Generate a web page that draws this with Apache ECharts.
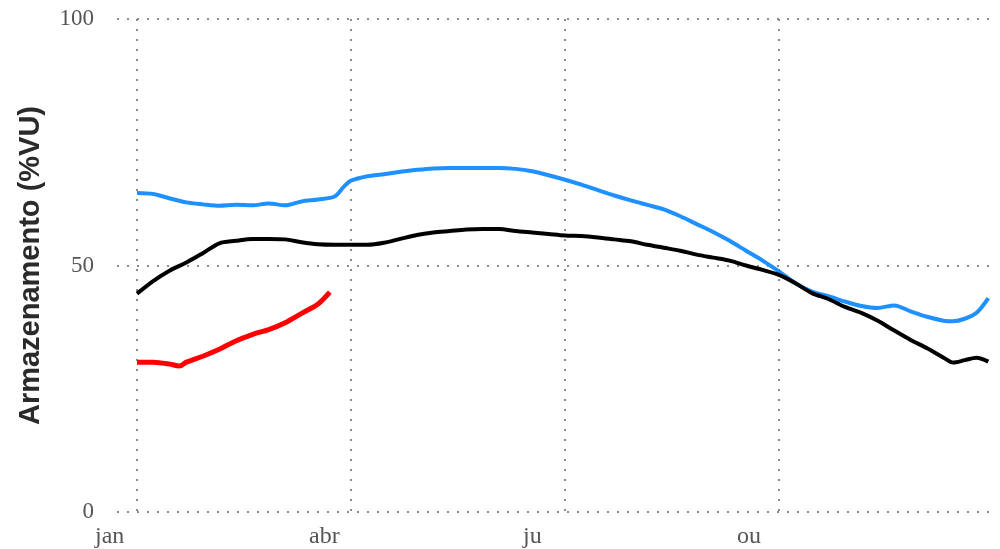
<!DOCTYPE html>
<html>
<head>
<meta charset="utf-8">
<script src="https://cdn.jsdelivr.net/npm/echarts@6/dist/echarts.min.js"></script>
<style>html,body{margin:0;padding:0;background:#fff;}#c{width:1000px;height:549px;}</style>
</head>
<body>
<div id="c"></div>
<script>
// x = day of year
const days = [0,7,14,21,28,35,42,49,56,63,70,77,84,88,91,98,105,112,119,126,133,140,147,154,161,168,175,182,189,196,203,210,217,224,231,238,245,252,259,266,273,280,287,294,301,308,315,322,329,336,343,347,352,357,362];
const blueValues = [64.7,64.5,63.6,62.8,62.4,62.1,62.3,62.2,62.6,62.2,63.0,63.4,64.0,66.0,67.2,68.1,68.5,69.0,69.4,69.7,69.8,69.8,69.8,69.8,69.6,69.1,68.3,67.4,66.4,65.3,64.2,63.2,62.3,61.4,60.0,58.4,56.8,55.0,53.0,51.0,48.8,46.4,44.7,43.8,42.7,41.8,41.4,41.9,40.7,39.6,38.8,38.7,39.2,40.4,43.4];
const blackValues = [44.3,46.9,49.0,50.6,52.5,54.5,55.0,55.4,55.4,55.3,54.7,54.3,54.2,54.2,54.2,54.2,54.6,55.4,56.2,56.7,57.0,57.3,57.4,57.4,57.0,56.7,56.4,56.1,56.0,55.7,55.3,54.9,54.2,53.6,53.0,52.2,51.6,51.0,50.0,49.1,48.1,46.4,44.4,43.2,41.6,40.4,38.8,36.8,34.9,33.2,31.3,30.3,30.8,31.3,30.5];
const redDays = [0,7,14,18,21,28,35,42,49,56,63,70,77,82];
const redValues = [30.4,30.4,30.0,29.6,30.4,31.6,33.0,34.7,36.0,37.0,38.4,40.3,42.2,44.6];
const xTickLabels = ['jan','abr','ju','ou'];
const yTicks = [0,50,100];
const yAxisName = 'Armazenamento (%VU)';

const pair = (xs, ys) => xs.map((x, i) => [x, ys[i]]);
const dotted = {type: [2, 8], width: 2, color: '#8a8a8a'};
const chart = echarts.init(document.getElementById('c'));
chart.setOption({
  animation: false,
  backgroundColor: '#fff',
  grid: [
    {left: 117, right: 5, top: 19, bottom: 37},
    {left: 137, right: 7, top: 19, bottom: 37},
    {left: 95, right: 49, top: 19, bottom: 37}
  ],
  xAxis: [
    {gridIndex: 0, type: 'value', min: 0, max: 1, show: false},
    {gridIndex: 1, type: 'value', min: 0, max: 364, interval: 91,
      axisLine: {show: false}, axisTick: {show: false}, axisLabel: {show: false},
      splitLine: {show: true, showMaxLine: false, lineStyle: dotted}},
    {gridIndex: 2, type: 'value', min: 0, max: 364, interval: 91,
      axisLine: {show: false}, axisTick: {show: false}, splitLine: {show: false},
      axisLabel: {show: true, showMaxLabel: false, align: 'left', margin: 17,
        fontFamily: 'Liberation Serif', fontSize: 24, color: '#555',
        formatter: v => { const i = Math.round(v / 91); return i < xTickLabels.length ? xTickLabels[i] : ''; }}}
  ],
  yAxis: [
    {gridIndex: 0, type: 'value', min: 0, max: 100, interval: 50,
      axisLine: {show: false}, axisTick: {show: false},
      splitLine: {show: true, lineStyle: dotted},
      axisLabel: {margin: 23, fontFamily: 'Liberation Serif', fontSize: 23, color: '#555',
        formatter: v => yTicks.includes(v) ? String(v) : ''},
      name: yAxisName, nameLocation: 'middle', nameGap: 72, nameRotate: 90,
      nameTextStyle: {fontFamily: 'Liberation Sans', fontWeight: 'bold', fontSize: 29, color: '#2a2a2a'}},
    {gridIndex: 1, type: 'value', min: 0, max: 100, show: false},
    {gridIndex: 2, type: 'value', min: 0, max: 100, show: false}
  ],
  series: [
    {type: 'line', xAxisIndex: 1, yAxisIndex: 1, data: pair(days, blueValues), showSymbol: false, smooth: 0.3,
      lineStyle: {color: '#1e90ff', width: 4}},
    {type: 'line', xAxisIndex: 1, yAxisIndex: 1, data: pair(days, blackValues), showSymbol: false, smooth: 0.3,
      lineStyle: {color: '#000', width: 4}},
    {type: 'line', xAxisIndex: 1, yAxisIndex: 1, data: pair(redDays, redValues), showSymbol: false, smooth: 0.3,
      lineStyle: {color: '#ff0000', width: 5}}
  ]
});
</script>
</body>
</html>
